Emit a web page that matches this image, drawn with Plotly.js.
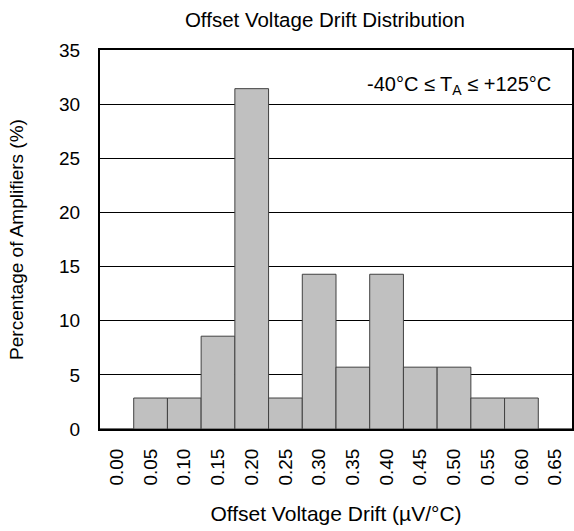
<!DOCTYPE html>
<html>
<head>
<meta charset="utf-8">
<script src="https://cdn.plot.ly/plotly-3.0.1.min.js"></script>
<style>html,body{margin:0;padding:0;background:#fff;}#chart{width:574px;height:531px;}</style>
</head>
<body>
<div id="chart"></div>
<script>
const categories = ["0.00","0.05","0.10","0.15","0.20","0.25","0.30","0.35","0.40","0.45","0.50","0.55","0.60","0.65"];
const percentages = [0, 2.86, 2.86, 8.57, 31.43, 2.86, 14.29, 5.71, 14.29, 5.71, 5.71, 2.86, 2.86, 0];
const yTicks = [0, 5, 10, 15, 20, 25, 30, 35];

const font = "Liberation Sans, Arial, sans-serif";

const trace = {
  type: "bar",
  x: categories,
  y: percentages,
  width: 1,
  marker: {color: "#c0c0c0", line: {color: "#404040", width: 1}},
  hoverinfo: "x+y"
};

const layout = {
  width: 574, height: 531,
  margin: {l: 100, r: 2, t: 50, b: 102},
  paper_bgcolor: "#fff", plot_bgcolor: "#fff",
  font: {family: font, color: "#000", size: 19},
  showlegend: false,
  bargap: 0,
  title: {text: "Offset Voltage Drift Distribution", font: {family: font, size: 20.5, color: "#000"}, x: 0.566, xanchor: "center", y: 0.962, yanchor: "middle"},
  xaxis: {
    type: "category",
    range: [-0.5, 13.5],
    tickangle: -90,
    tickfont: {family: font, size: 19},
    showgrid: false,
    showline: true, mirror: true, linecolor: "#000", linewidth: 2,
    ticks: "outside", ticklen: 10, tickcolor: "rgba(0,0,0,0)",
    title: {text: "Offset Voltage Drift (µV/°C)", font: {family: font, size: 21}, standoff: 22}
  },
  yaxis: {
    range: [0, 35],
    tickvals: yTicks,
    ticktext: yTicks.map(String),
    tickfont: {family: font, size: 19},
    showgrid: true, gridcolor: "#000", gridwidth: 1,
    zeroline: false,
    showline: true, mirror: true, linecolor: "#000", linewidth: 2,
    ticks: "outside", ticklen: 14, tickcolor: "rgba(0,0,0,0)",
    title: {text: "Percentage of Amplifiers (%)", font: {family: font, size: 19}, standoff: 30}
  },
  annotations: [{
    xref: "paper", yref: "paper",
    x: 0.96, y: 0.907, xanchor: "right", yanchor: "middle",
    text: "-40°C ≤ T<sub>A</sub> ≤ +125°C",
    showarrow: false,
    font: {family: font, size: 20, color: "#000"}
  }]
};

Plotly.newPlot("chart", [trace], layout, {displayModeBar: false, staticPlot: true});
</script>
</body>
</html>
